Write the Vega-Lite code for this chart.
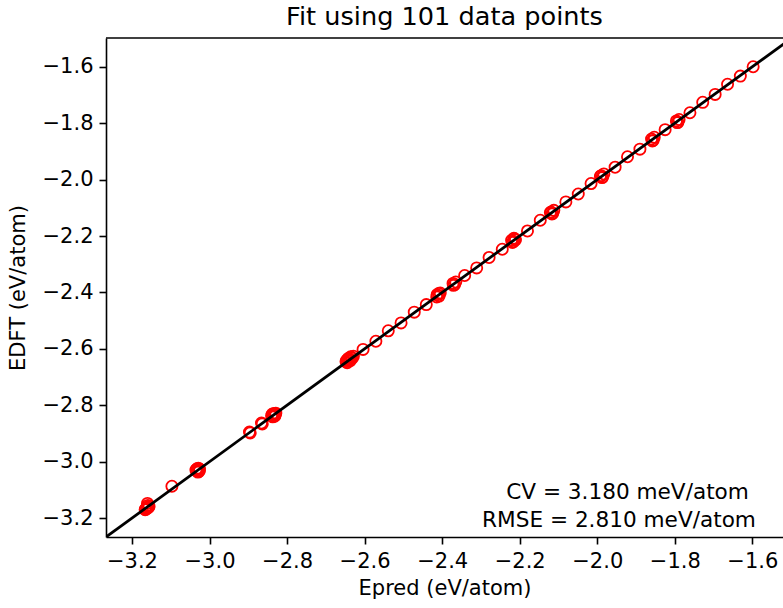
{
  "$schema": "https://vega.github.io/schema/vega-lite/v6.json",
  "autosize": {"type": "none"},
  "padding": {"left": 106, "top": 38, "right": 0, "bottom": 71},
  "width": 677,
  "height": 499,
  "background": "white",
  "config": {
    "view": {"stroke": null},
    "font": "DejaVu Sans",
    "axis": {
      "grid": false,
      "domainColor": "black",
      "domainWidth": 1.6,
      "tickColor": "black",
      "tickWidth": 1.6,
      "tickSize": 7,
      "labelPadding": 6,
      "labelFont": "DejaVu Sans",
      "labelFontSize": 21,
      "labelColor": "black",
      "titleFont": "DejaVu Sans",
      "titleFontSize": 21,
      "titleFontWeight": "normal",
      "titleColor": "black"
    }
  },
  "title": {
    "text": "Fit using 101 data points",
    "font": "DejaVu Sans",
    "fontSize": 25.6,
    "fontWeight": "normal",
    "color": "black",
    "offset": 7
  },
  "datasets": {
    "points": [
      {"x": -3.165, "y": -3.169}, {"x": -3.161, "y": -3.163}, {"x": -3.160, "y": -3.148}, {"x": -3.157, "y": -3.161}, {"x": -3.163, "y": -3.166}, {"x": -3.159, "y": -3.155}, {"x": -3.166, "y": -3.170}, {"x": -3.160, "y": -3.165}, {"x": -3.156, "y": -3.158},
      {"x": -3.097, "y": -3.087},
      {"x": -3.034, "y": -3.028}, {"x": -3.030, "y": -3.031}, {"x": -3.028, "y": -3.035}, {"x": -3.032, "y": -3.025}, {"x": -3.026, "y": -3.032}, {"x": -3.035, "y": -3.030}, {"x": -3.030, "y": -3.037}, {"x": -3.026, "y": -3.026}, {"x": -3.029, "y": -3.023},
      {"x": -2.897, "y": -2.895}, {"x": -2.895, "y": -2.898}, {"x": -2.866, "y": -2.863}, {"x": -2.864, "y": -2.866},
      {"x": -2.840, "y": -2.837}, {"x": -2.835, "y": -2.832}, {"x": -2.832, "y": -2.839}, {"x": -2.838, "y": -2.831}, {"x": -2.833, "y": -2.829}, {"x": -2.831, "y": -2.835}, {"x": -2.837, "y": -2.841}, {"x": -2.829, "y": -2.828},
      {"x": -2.648, "y": -2.645}, {"x": -2.643, "y": -2.640}, {"x": -2.640, "y": -2.635}, {"x": -2.637, "y": -2.642}, {"x": -2.635, "y": -2.630}, {"x": -2.645, "y": -2.649}, {"x": -2.639, "y": -2.638}, {"x": -2.642, "y": -2.634}, {"x": -2.636, "y": -2.628}, {"x": -2.632, "y": -2.633}, {"x": -2.629, "y": -2.626}, {"x": -2.646, "y": -2.640},
      {"x": -2.604, "y": -2.602}, {"x": -2.571, "y": -2.573}, {"x": -2.539, "y": -2.536}, {"x": -2.506, "y": -2.508}, {"x": -2.472, "y": -2.470}, {"x": -2.441, "y": -2.443},
      {"x": -2.413, "y": -2.408}, {"x": -2.408, "y": -2.413}, {"x": -2.405, "y": -2.402}, {"x": -2.414, "y": -2.416}, {"x": -2.409, "y": -2.404},
      {"x": -2.372, "y": -2.368}, {"x": -2.368, "y": -2.372}, {"x": -2.365, "y": -2.363}, {"x": -2.371, "y": -2.375},
      {"x": -2.342, "y": -2.340}, {"x": -2.311, "y": -2.313}, {"x": -2.279, "y": -2.276}, {"x": -2.245, "y": -2.247},
      {"x": -2.221, "y": -2.215}, {"x": -2.216, "y": -2.220}, {"x": -2.213, "y": -2.210}, {"x": -2.219, "y": -2.223}, {"x": -2.211, "y": -2.214}, {"x": -2.215, "y": -2.208},
      {"x": -2.180, "y": -2.182}, {"x": -2.147, "y": -2.144},
      {"x": -2.119, "y": -2.115}, {"x": -2.115, "y": -2.120}, {"x": -2.112, "y": -2.109}, {"x": -2.117, "y": -2.122}, {"x": -2.121, "y": -2.117},
      {"x": -2.081, "y": -2.079}, {"x": -2.049, "y": -2.051}, {"x": -2.016, "y": -2.014},
      {"x": -1.990, "y": -1.986}, {"x": -1.986, "y": -1.991}, {"x": -1.983, "y": -1.980}, {"x": -1.988, "y": -1.993}, {"x": -1.992, "y": -1.988},
      {"x": -1.954, "y": -1.956}, {"x": -1.922, "y": -1.919}, {"x": -1.890, "y": -1.892},
      {"x": -1.860, "y": -1.856}, {"x": -1.856, "y": -1.861}, {"x": -1.853, "y": -1.850}, {"x": -1.858, "y": -1.863},
      {"x": -1.825, "y": -1.823},
      {"x": -1.796, "y": -1.792}, {"x": -1.792, "y": -1.797}, {"x": -1.789, "y": -1.787}, {"x": -1.794, "y": -1.798},
      {"x": -1.761, "y": -1.763}, {"x": -1.728, "y": -1.726}, {"x": -1.696, "y": -1.698}, {"x": -1.664, "y": -1.662}, {"x": -1.631, "y": -1.633}, {"x": -1.598, "y": -1.600}
    ],
    "diag": [
      {"x": -3.4, "y": -3.4},
      {"x": -1.3, "y": -1.3}
    ]
  },
  "layer": [
    {
      "data": {"name": "points"},
      "mark": {"type": "point", "shape": "circle", "filled": false, "color": "red", "strokeWidth": 1.8, "size": 125, "opacity": 1},
      "encoding": {
        "x": {
          "field": "x", "type": "quantitative",
          "scale": {"domain": [-3.267, -1.521], "nice": false, "zero": false},
          "axis": {
            "title": "Epred (eV/atom)",
            "values": [-3.2, -3.0, -2.8, -2.6, -2.4, -2.2, -2.0, -1.8, -1.6],
            "format": ".1f",
            "titlePadding": 6
          }
        },
        "y": {
          "field": "y", "type": "quantitative",
          "scale": {"domain": [-3.267, -1.498], "nice": false, "zero": false},
          "axis": {
            "title": "EDFT (eV/atom)",
            "values": [-3.2, -3.0, -2.8, -2.6, -2.4, -2.2, -2.0, -1.8, -1.6],
            "format": ".1f",
            "titlePadding": 14
          }
        }
      }
    },
    {
      "data": {"name": "diag"},
      "mark": {"type": "line", "color": "black", "strokeWidth": 2.8, "clip": true},
      "encoding": {
        "x": {"field": "x", "type": "quantitative"},
        "y": {"field": "y", "type": "quantitative"}
      }
    },
    {
      "data": {"values": [{}]},
      "mark": {"type": "rule", "color": "black", "strokeWidth": 1.6},
      "encoding": {
        "y": {"datum": -1.498, "type": "quantitative"}
      }
    },
    {
      "data": {"values": [{}]},
      "mark": {"type": "text", "text": "CV = 3.180 meV/atom", "fontSize": 21.6, "font": "DejaVu Sans", "align": "center", "baseline": "alphabetic", "color": "black"},
      "encoding": {
        "x": {"datum": -1.922, "type": "quantitative"},
        "y": {"datum": -3.132, "type": "quantitative"}
      }
    },
    {
      "data": {"values": [{}]},
      "mark": {"type": "text", "text": "RMSE = 2.810 meV/atom", "fontSize": 21.6, "font": "DejaVu Sans", "align": "center", "baseline": "alphabetic", "color": "black"},
      "encoding": {
        "x": {"datum": -1.944, "type": "quantitative"},
        "y": {"datum": -3.231, "type": "quantitative"}
      }
    }
  ]
}
